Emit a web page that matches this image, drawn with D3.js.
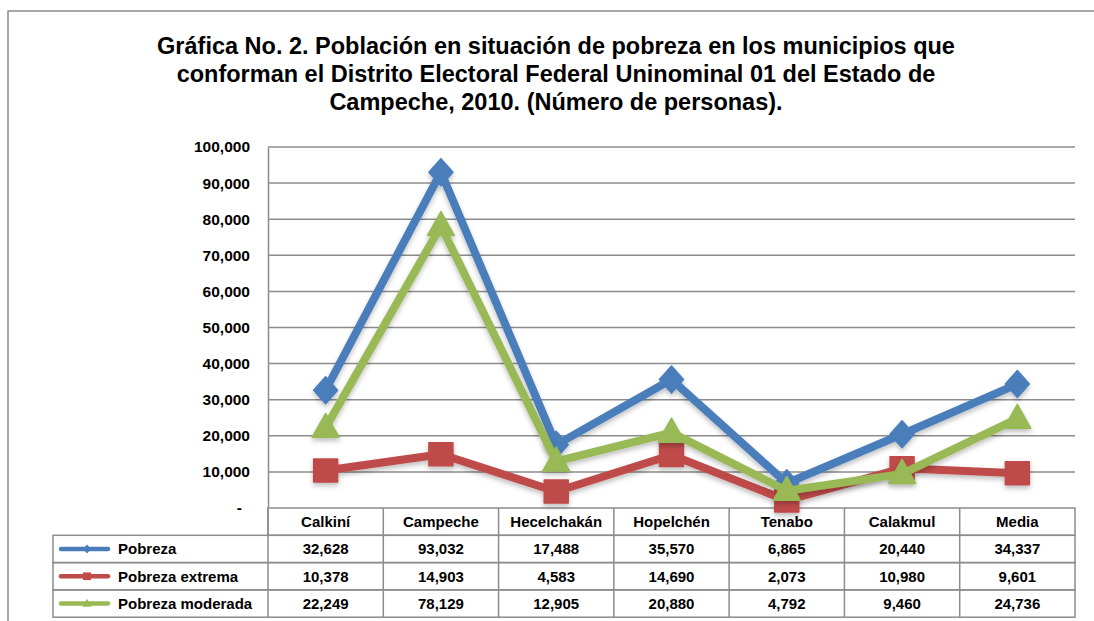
<!DOCTYPE html>
<html>
<head>
<meta charset="utf-8">
<script src="https://cdn.jsdelivr.net/npm/d3@7"></script>
<style>
  body { margin: 0; background: #fff; }
  text { font-family: "Liberation Sans", Arial, sans-serif; font-weight: bold; fill: #000; }
</style>
</head>
<body>
<div id="viz"></div>
<script>
var width = 1094;
var height = 621;

// data
var municipios = ["Calkiní", "Campeche", "Hecelchakán", "Hopelchén", "Tenabo", "Calakmul", "Media"];
var pobreza = [32628, 93032, 17488, 35570, 6865, 20440, 34337];
var pobrezaExtrema = [10378, 14903, 4583, 14690, 2073, 10980, 9601];
var pobrezaModerada = [22249, 78129, 12905, 20880, 4792, 9460, 24736];
var seriesNames = ["Pobreza", "Pobreza extrema", "Pobreza moderada"];
var yTicks = [0, 10000, 20000, 30000, 40000, 50000, 60000, 70000, 80000, 90000, 100000];
var titleLines = [
   "Gráfica No. 2. Población en situación de pobreza en los municipios que",
   "conforman el Distrito Electoral Federal Uninominal 01 del Estado de",
   "Campeche, 2010. (Número de personas)."
];

var colors = ["#4a7ebb", "#be4b48", "#98b954"];
var series = [pobreza, pobrezaExtrema, pobrezaModerada];

// marker shapes, drawn with width w and height h
function diamond(w, h) {
   return "M0," + (-h / 2) + "L" + (w / 2) + ",0L0," + (h / 2) + "L" + (-w / 2) + ",0Z";
}
function square(w, h) {
   return "M" + (-w / 2) + "," + (-h / 2) + "h" + w + "v" + h + "h" + (-w) + "Z";
}
function triangle(w, h) {
   return "M0," + (-h * 0.6) + "L" + (w / 2) + "," + (h * 0.4) + "L" + (-w / 2) + "," + (h * 0.4) + "Z";
}
var shapes = [diamond, square, triangle];
var markerW = [24, 24, 27];
var markerH = [27, 23, 24];

var svg = d3.select("#viz").append("svg")
   .attr("width", width)
   .attr("height", height);

// outer frame (only top and left visible)
svg.append("path")
   .attr("d", "M8,621 L8,11 L1094,11")
   .attr("fill", "none")
   .attr("stroke", "#8c8c8c")
   .attr("stroke-width", 1.5);

// title
svg.append("g").selectAll("text")
   .data(titleLines)
   .enter().append("text")
   .attr("x", 556)
   .attr("y", function(d, i) { return 54 + i * 28; })
   .attr("text-anchor", "middle")
   .style("font-size", "23.5px")
   .text(function(d) { return d; });

var pLeft = 268, pRight = 1075, pTop = 147, pBottom = 508;

var x = d3.scaleBand()
   .domain(municipios)
   .range([pLeft, pRight]);

var y = d3.scaleLinear()
   .domain([0, 100000])
   .range([pBottom, pTop]);

// gridlines
svg.append("g").selectAll("line")
   .data(yTicks.filter(function(d) { return d > 0; }))
   .enter().append("line")
   .attr("x1", pLeft)
   .attr("x2", pRight)
   .attr("y1", function(d) { return y(d); })
   .attr("y2", function(d) { return y(d); })
   .attr("stroke", "#8c8c8c")
   .attr("stroke-width", 1.5);

// y axis
var yAxis = d3.axisLeft(y)
   .tickValues(yTicks)
   .tickSize(0)
   .tickPadding(18)
   .tickFormat(function(d) { return d === 0 ? "-" : d3.format(",")(d); });

var ga = svg.append("g")
   .attr("transform", "translate(" + pLeft + ",0)")
   .call(yAxis);
ga.select(".domain").attr("stroke", "#8c8c8c").attr("stroke-width", 1.5);
ga.selectAll("text")
   .style("font-size", "15.5px")
   .style("font-family", "\"Liberation Sans\", Arial, sans-serif")
   .style("font-weight", "bold");
ga.selectAll(".tick").filter(function(d) { return d === 0; }).select("text")
   .attr("dx", -8);

// table
var rowH = 27.3;
var legendLeft = 53;
var table = svg.append("g");
var borderColor = "#8c8c8c";

// header row
table.append("rect")
   .attr("x", pLeft).attr("y", pBottom)
   .attr("width", pRight - pLeft).attr("height", rowH)
   .attr("fill", "none").attr("stroke", borderColor).attr("stroke-width", 1.5);
table.selectAll(".hcell")
   .data(municipios)
   .enter().append("text")
   .attr("x", function(d) { return x(d) + x.bandwidth() / 2; })
   .attr("y", pBottom + rowH / 2 + 5.5)
   .attr("text-anchor", "middle")
   .style("font-size", "15px")
   .text(function(d) { return d; });

// column separators
table.selectAll(".vline")
   .data(municipios)
   .enter().append("line")
   .attr("x1", function(d) { return x(d); })
   .attr("x2", function(d) { return x(d); })
   .attr("y1", pBottom)
   .attr("y2", pBottom + rowH * 4)
   .attr("stroke", borderColor).attr("stroke-width", 1.5);

series.forEach(function(vals, si) {
   var ry = pBottom + rowH * (si + 1);
   table.append("rect")
      .attr("x", legendLeft).attr("y", ry)
      .attr("width", pRight - legendLeft).attr("height", rowH)
      .attr("fill", "none").attr("stroke", borderColor).attr("stroke-width", 1.5);
   table.append("line")
      .attr("x1", legendLeft + 8).attr("x2", legendLeft + 55)
      .attr("y1", ry + rowH / 2).attr("y2", ry + rowH / 2)
      .attr("stroke", colors[si]).attr("stroke-width", 4.5)
      .attr("stroke-linecap", "round");
   table.append("path")
      .attr("d", shapes[si](markerW[si] / 3, markerH[si] / 3))
      .attr("transform", "translate(" + (legendLeft + 34) + "," + (ry + rowH / 2) + ")")
      .attr("fill", colors[si]);
   table.append("text")
      .attr("x", legendLeft + 65)
      .attr("y", ry + rowH / 2 + 5.5)
      .style("font-size", "15px")
      .text(seriesNames[si]);
   table.selectAll(".cell" + si)
      .data(vals)
      .enter().append("text")
      .attr("x", function(d, i) { return x(municipios[i]) + x.bandwidth() / 2; })
      .attr("y", ry + rowH / 2 + 5.5)
      .attr("text-anchor", "middle")
      .style("font-size", "15px")
      .text(function(d) { return d3.format(",")(d); });
});

// shadow filter
var defs = svg.append("defs");
var f = defs.append("filter").attr("id", "shadow")
   .attr("x", "-30%").attr("y", "-30%").attr("width", "160%").attr("height", "180%");
f.append("feDropShadow")
   .attr("dx", 0).attr("dy", 3).attr("stdDeviation", 2.5)
   .attr("flood-color", "#000").attr("flood-opacity", 0.25);

// lines
var line = d3.line()
   .x(function(d, i) { return x(municipios[i]) + x.bandwidth() / 2; })
   .y(function(d) { return y(d); });

series.forEach(function(vals, si) {
   var g = svg.append("g").attr("filter", "url(#shadow)");
   g.append("path")
      .datum(vals)
      .attr("d", line)
      .attr("fill", "none")
      .attr("stroke", colors[si])
      .attr("stroke-width", 8)
      .attr("stroke-linejoin", "round");
   g.selectAll(".m")
      .data(vals)
      .enter().append("path")
      .attr("d", shapes[si](markerW[si], markerH[si]))
      .attr("transform", function(d, i) {
         return "translate(" + (x(municipios[i]) + x.bandwidth() / 2) + "," + y(d) + ")";
      })
      .attr("fill", colors[si])
      .attr("stroke", colors[si])
      .attr("stroke-width", 1.5)
      .attr("stroke-linejoin", "round");
});
</script>
</body>
</html>
